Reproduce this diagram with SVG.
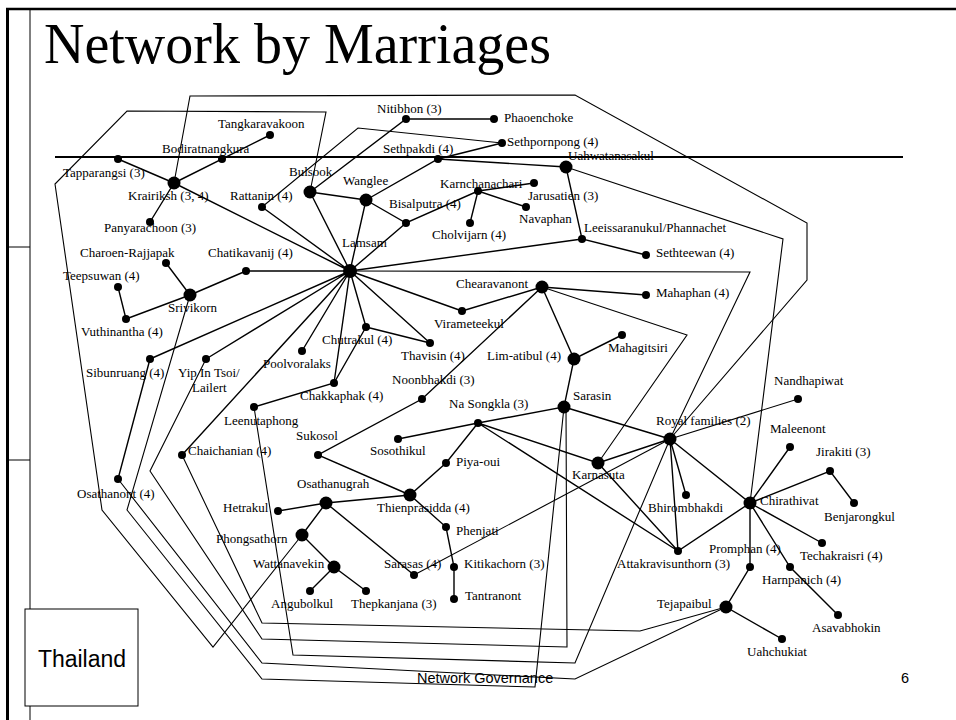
<svg xmlns="http://www.w3.org/2000/svg" width="956" height="720" viewBox="0 0 956 720">
<style>
.e{stroke:#000;stroke-width:1.4;fill:none}
.p{stroke:#000;stroke-width:1.1;fill:none}
.f{stroke:#000;fill:none}
.d{fill:#000}
.l{font-family:"Liberation Serif","Times New Roman",serif;font-size:13px;fill:#000}
</style>
<rect width="956" height="720" fill="#fff"/>
<g id="frame">
<line class="f" x1="6" y1="9" x2="956" y2="9" stroke-width="2.5"/>
<line class="f" x1="7.5" y1="8" x2="7.5" y2="720" stroke-width="3"/>
<line class="f" x1="30" y1="9" x2="30" y2="720" stroke-width="1"/>
<line class="f" x1="7" y1="247" x2="30" y2="247" stroke-width="1"/>
<line class="f" x1="7" y1="460" x2="30" y2="460" stroke-width="1"/>
<line class="f" x1="55" y1="157" x2="903" y2="157" stroke-width="2"/>
</g>
<text x="44" y="63" font-family="Liberation Serif,serif" font-size="56" fill="#000">Network by Marriages</text>
<g id="connectors">
<path class="e" d="M350 271L310 192M350 271L366 200M350 271L406 223M350 271L262 207M350 271L174 183M350 271L582 239M350 271L246 271M350 271L150 359M350 271L206 359M350 271L182 455M350 271L302 351M350 271L334 383M350 271L366 327M350 271L430 343M350 271L462 311"/>
<path class="e" d="M118 159L174 183M174 183L270 135M174 183L150 222M310 192L406 119L494 119M310 192L366 200M366 200L406 223L478 191L534 183M478 191L526 207M478 191L470 223M366 200L438 159L502 143M438 159L566 167L582 239L646 255"/>
<path class="e" d="M246 271L190 295L126 319L118 287M190 295L166 263M150 359L118 479M366 327L430 343M366 327L334 383L254 407"/>
<path class="e" d="M462 311L542 287L646 295M542 287L574 359L622 335M574 359L564 407L478 423L398 439M542 287L422 399L318 455L410 495M478 423L446 463L410 495L326 503L278 511M326 503L302 535L334 567L310 591M334 567L366 591M326 503L414 575M410 495L446 527L454 567L454 599"/>
<path class="e" d="M478 423L598 463L670 439M478 423L678 551M598 463L678 551M564 407L670 439M670 439L686 495M670 439L750 503L678 551L670 439M750 503L790 447M750 503L830 471L854 503M750 503L822 543M750 503L790 567L838 615M750 503L750 567L726 607L782 639"/>
<path class="p" d="M670 439L798 399" stroke-width="0.8"/>
<path class="p" d="M310 192L326 112L127 111L55 184L102 510L213 647L302 535"/>
<path class="p" d="M174 183L190 96L575 95L807 223L807 280L670 439"/>
<path class="p" d="M262 207L358 128L502 143"/>
<path class="p" d="M566 167L783 239L750 503"/>
<path class="p" d="M350 271L750 272L670 439"/>
<path class="p" d="M542 287L687 335L598 463"/>
<path class="p" d="M414 575L670 439"/>
<path class="p" d="M254 407L293 655L575 663L670 439"/>
<path class="p" d="M190 295L127 510L262 679L535 687L564 407"/>
<path class="p" d="M118 479L262 663L575 679L726 607"/>
<path class="p" d="M206 359L150 471L262 639L567 647L566 407"/>
<path class="p" d="M182 455L262 623L640 631L726 607"/>
</g>
<g id="n-tangkaravakoon"><circle class="d" cx="270" cy="135" r="4"/><text class="l" x="218" y="128">Tangkaravakoon</text></g>
<g id="n-bodiratnangkura"><circle class="d" cx="222" cy="159" r="4"/><text class="l" x="162" y="153">Bodiratnangkura</text></g>
<g id="n-tapparangsi"><circle class="d" cx="118" cy="159" r="4"/><text class="l" x="63" y="177">Tapparangsi (3)</text></g>
<g id="n-krairiksh"><circle class="d" cx="174" cy="183" r="6.5"/><text class="l" x="128" y="200">Krairiksh (3, 4)</text></g>
<g id="n-panyarachoon"><circle class="d" cx="150" cy="222" r="4"/><text class="l" x="104" y="232">Panyarachoon (3)</text></g>
<g id="n-rattanin"><circle class="d" cx="262" cy="207" r="4"/><text class="l" x="230" y="200">Rattanin (4)</text></g>
<g id="n-bulsook"><circle class="d" cx="310" cy="192" r="6.5"/><text class="l" x="289" y="176">Bulsook</text></g>
<g id="n-wanglee"><circle class="d" cx="366" cy="200" r="6.5"/><text class="l" x="343" y="185">Wanglee</text></g>
<g id="n-nitibhon"><circle class="d" cx="406" cy="119" r="4"/><text class="l" x="377" y="113">Nitibhon (3)</text></g>
<g id="n-phaoenchoke"><circle class="d" cx="494" cy="119" r="4"/><text class="l" x="504" y="122">Phaoenchoke</text></g>
<g id="n-sethpornpong"><circle class="d" cx="502" cy="143" r="4"/><text class="l" x="507" y="146">Sethpornpong (4)</text></g>
<g id="n-sethpakdi"><circle class="d" cx="438" cy="159" r="4"/><text class="l" x="383" y="153">Sethpakdi (4)</text></g>
<g id="n-uahwatanasakul"><circle class="d" cx="566" cy="167" r="6.5"/><text class="l" x="568" y="160">Uahwatanasakul</text></g>
<g id="n-karnchanachari"><circle class="d" cx="478" cy="191" r="4"/><text class="l" x="440" y="188">Karnchanachari</text></g>
<g id="n-jarusatien"><circle class="d" cx="534" cy="183" r="4"/><text class="l" x="528" y="200">Jarusatien (3)</text></g>
<g id="n-navaphan"><circle class="d" cx="526" cy="207" r="4"/><text class="l" x="519" y="223">Navaphan</text></g>
<g id="n-cholvijarn"><circle class="d" cx="470" cy="223" r="4"/><text class="l" x="432" y="239">Cholvijarn (4)</text></g>
<g id="n-bisalputra"><circle class="d" cx="406" cy="223" r="4"/><text class="l" x="389" y="208">Bisalputra (4)</text></g>
<g id="n-lamsam"><circle class="d" cx="350" cy="271" r="7"/><text class="l" x="342" y="247">Lamsam</text></g>
<g id="n-leeissaranukul"><circle class="d" cx="582" cy="239" r="4"/><text class="l" x="584" y="232">Leeissaranukul/Phannachet</text></g>
<g id="n-sethteewan"><circle class="d" cx="646" cy="255" r="4"/><text class="l" x="656" y="257">Sethteewan (4)</text></g>
<g id="n-chearavanont"><circle class="d" cx="542" cy="287" r="6.5"/><text class="l" x="456" y="288">Chearavanont</text></g>
<g id="n-mahaphan"><circle class="d" cx="646" cy="295" r="4"/><text class="l" x="656" y="297">Mahaphan (4)</text></g>
<g id="n-mahagitsiri"><circle class="d" cx="622" cy="335" r="4"/><text class="l" x="608" y="352">Mahagitsiri</text></g>
<g id="n-limatibul"><circle class="d" cx="574" cy="359" r="6.5"/><text class="l" x="487" y="360">Lim-atibul (4)</text></g>
<g id="n-sarasin"><circle class="d" cx="564" cy="407" r="6.5"/><text class="l" x="573" y="400">Sarasin</text></g>
<g id="n-virameteekul"><circle class="d" cx="462" cy="311" r="4"/><text class="l" x="434" y="328">Virameteekul</text></g>
<g id="n-chutrakul"><circle class="d" cx="366" cy="327" r="4"/><text class="l" x="322" y="344">Chutrakul (4)</text></g>
<g id="n-thavisin"><circle class="d" cx="430" cy="343" r="4"/><text class="l" x="401" y="360">Thavisin (4)</text></g>
<g id="n-chakkaphak"><circle class="d" cx="334" cy="383" r="4"/><text class="l" x="300" y="400">Chakkaphak (4)</text></g>
<g id="n-poolvoralaks"><circle class="d" cx="302" cy="351" r="4"/><text class="l" x="263" y="368">Poolvoralaks</text></g>
<g id="n-noonbhakdi"><circle class="d" cx="422" cy="399" r="4"/><text class="l" x="392" y="384">Noonbhakdi (3)</text></g>
<g id="n-nasongkla"><circle class="d" cx="478" cy="423" r="4"/><text class="l" x="449" y="408">Na Songkla (3)</text></g>
<g id="n-sosothikul"><circle class="d" cx="398" cy="439" r="4"/><text class="l" x="370" y="455">Sosothikul</text></g>
<g id="n-sukosol"><circle class="d" cx="318" cy="455" r="4"/><text class="l" x="296" y="440">Sukosol</text></g>
<g id="n-piyaoui"><circle class="d" cx="446" cy="463" r="4"/><text class="l" x="456" y="466">Piya-oui</text></g>
<g id="n-karnasuta"><circle class="d" cx="598" cy="463" r="6.5"/><text class="l" x="572" y="479">Karnasuta</text></g>
<g id="n-royal"><circle class="d" cx="670" cy="439" r="6.5"/><text class="l" x="656" y="425">Royal families (2)</text></g>
<g id="n-nandhapiwat"><circle class="d" cx="798" cy="399" r="4"/><text class="l" x="774" y="385">Nandhapiwat</text></g>
<g id="n-maleenont"><circle class="d" cx="790" cy="447" r="4"/><text class="l" x="770" y="433">Maleenont</text></g>
<g id="n-jirakiti"><circle class="d" cx="830" cy="471" r="4"/><text class="l" x="816" y="456">Jirakiti (3)</text></g>
<g id="n-benjarongkul"><circle class="d" cx="854" cy="503" r="4"/><text class="l" x="824" y="521">Benjarongkul</text></g>
<g id="n-chirathivat"><circle class="d" cx="750" cy="503" r="6.5"/><text class="l" x="760" y="505">Chirathivat</text></g>
<g id="n-bhirombhakdi"><circle class="d" cx="686" cy="495" r="4"/><text class="l" x="648" y="512">Bhirombhakdi</text></g>
<g id="n-techakraisri"><circle class="d" cx="822" cy="543" r="4"/><text class="l" x="800" y="560">Techakraisri (4)</text></g>
<g id="n-promphan"><circle class="d" cx="750" cy="567" r="4"/><text class="l" x="709" y="553">Promphan (4)</text></g>
<g id="n-attakravisunthorn"><circle class="d" cx="678" cy="551" r="4"/><text class="l" x="617" y="568">Attakravisunthorn (3)</text></g>
<g id="n-harnpanich"><circle class="d" cx="790" cy="567" r="4"/><text class="l" x="762" y="584">Harnpanich (4)</text></g>
<g id="n-asavabhokin"><circle class="d" cx="838" cy="615" r="4"/><text class="l" x="812" y="632">Asavabhokin</text></g>
<g id="n-tejapaibul"><circle class="d" cx="726" cy="607" r="6.5"/><text class="l" x="657" y="608">Tejapaibul</text></g>
<g id="n-uahchukiat"><circle class="d" cx="782" cy="639" r="4"/><text class="l" x="747" y="656">Uahchukiat</text></g>
<g id="n-charoen"><circle class="d" cx="166" cy="263" r="4"/><text class="l" x="80" y="257">Charoen-Rajjapak</text></g>
<g id="n-chatikavanij"><circle class="d" cx="246" cy="271" r="4"/><text class="l" x="208" y="257">Chatikavanij (4)</text></g>
<g id="n-teepsuwan"><circle class="d" cx="118" cy="287" r="4"/><text class="l" x="63" y="280">Teepsuwan (4)</text></g>
<g id="n-srivikorn"><circle class="d" cx="190" cy="295" r="6.5"/><text class="l" x="168" y="312">Srivikorn</text></g>
<g id="n-vuthinantha"><circle class="d" cx="126" cy="319" r="4"/><text class="l" x="81" y="336">Vuthinantha (4)</text></g>
<g id="n-sibunruang"><circle class="d" cx="150" cy="359" r="4"/><text class="l" x="86" y="377">Sibunruang (4)</text></g>
<g id="n-yip"><circle class="d" cx="206" cy="359" r="4"/><text class="l" x="178" y="377">Yip In Tsoi/</text><text class="l" x="192" y="392">Lailert</text></g>
<g id="n-leenutaphong"><circle class="d" cx="254" cy="407" r="4"/><text class="l" x="224" y="425">Leenutaphong</text></g>
<g id="n-chaichanian"><circle class="d" cx="182" cy="455" r="4"/><text class="l" x="188" y="455">Chaichanian (4)</text></g>
<g id="n-osathanont"><circle class="d" cx="118" cy="479" r="4"/><text class="l" x="77" y="498">Osathanont (4)</text></g>
<g id="n-osathanugrah"><circle class="d" cx="326" cy="503" r="6.5"/><text class="l" x="297" y="488">Osathanugrah</text></g>
<g id="n-hetrakul"><circle class="d" cx="278" cy="511" r="4"/><text class="l" x="223" y="512">Hetrakul</text></g>
<g id="n-thienprasidda"><circle class="d" cx="410" cy="495" r="6.5"/><text class="l" x="377" y="512">Thienprasidda (4)</text></g>
<g id="n-phenjati"><circle class="d" cx="446" cy="527" r="4"/><text class="l" x="456" y="535">Phenjati</text></g>
<g id="n-phongsathorn"><circle class="d" cx="302" cy="535" r="6.5"/><text class="l" x="216" y="543">Phongsathorn</text></g>
<g id="n-wattanavekin"><circle class="d" cx="334" cy="567" r="6.5"/><text class="l" x="253" y="568">Wattanavekin</text></g>
<g id="n-sarasas"><circle class="d" cx="414" cy="575" r="4"/><text class="l" x="384" y="568">Sarasas (4)</text></g>
<g id="n-kitikachorn"><circle class="d" cx="454" cy="567" r="4"/><text class="l" x="464" y="568">Kitikachorn (3)</text></g>
<g id="n-angubolkul"><circle class="d" cx="310" cy="591" r="4"/><text class="l" x="271" y="608">Angubolkul</text></g>
<g id="n-thepkanjana"><circle class="d" cx="366" cy="591" r="4"/><text class="l" x="351" y="608">Thepkanjana (3)</text></g>
<g id="n-tantranont"><circle class="d" cx="454" cy="599" r="4"/><text class="l" x="465" y="600">Tantranont</text></g>
<g id="thailand"><rect x="25" y="609" width="113" height="97" fill="#fff" stroke="#000" stroke-width="1"/><text x="82" y="667" text-anchor="middle" font-family="Liberation Sans,Arial,sans-serif" font-size="23" fill="#000">Thailand</text></g>
<text x="417" y="683" font-family="Liberation Sans,Arial,sans-serif" font-size="14.5" fill="#000">Network Governance</text>
<text x="901" y="683" font-family="Liberation Sans,Arial,sans-serif" font-size="14.5" fill="#000">6</text>
</svg>
